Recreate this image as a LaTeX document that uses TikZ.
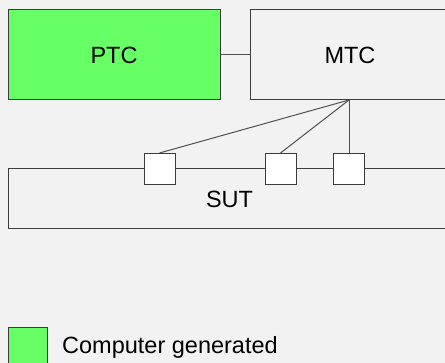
\documentclass[tikz,border=0pt]{standalone}
\usepackage{fontspec}
\setmainfont{Liberation Sans}
\begin{document}
\begin{tikzpicture}[x=1pt,y=-1pt,
  font=\fontsize{23.5}{27}\selectfont,
  box/.style={draw=boxline,line width=1pt,rectangle,inner sep=0pt},
  port/.style={box,fill=white,minimum width=31pt,minimum height=31pt},
  wire/.style={draw=wireline,line width=1pt}]
\definecolor{bg}{HTML}{F2F2F2}
\definecolor{gen}{HTML}{66FF66}
\definecolor{boxline}{HTML}{3C3C3C}
\definecolor{wireline}{HTML}{505050}
\useasboundingbox (0,0) rectangle (445,363);
\fill[bg] (0,0) rectangle (445,363);
\clip (0,0) rectangle (445,363);
% test components
\node[box,fill=gen,minimum width=212pt,minimum height=90pt] (ptc) at (114,55) {PTC};
\node[box,fill=bg,minimum width=200pt,minimum height=90pt] (mtc) at (350,55) {MTC};
% system under test with its ports
\node[box,fill=bg,minimum width=443pt,minimum height=60pt] (sut) at (229.5,199) {SUT};
\node[port] (p1) at (159.5,169) {};
\node[port] (p2) at (280.5,169) {};
\node[port] (p3) at (349,169) {};
% connections
\coordinate (hub) at (349,100);
\draw[wire] (ptc.east) -- (mtc.west);
\draw[wire] (hub) -- (p1.north);
\draw[wire] (hub) -- (p2.north);
\draw[wire] (hub) -- (p3.north);
% legend
\node[box,fill=gen,minimum width=39pt,minimum height=39pt] (key) at (27.5,347.5) {};
\node[anchor=west,inner sep=0pt] (keytext) at (62,347) {Computer generated};
\end{tikzpicture}
\end{document}
